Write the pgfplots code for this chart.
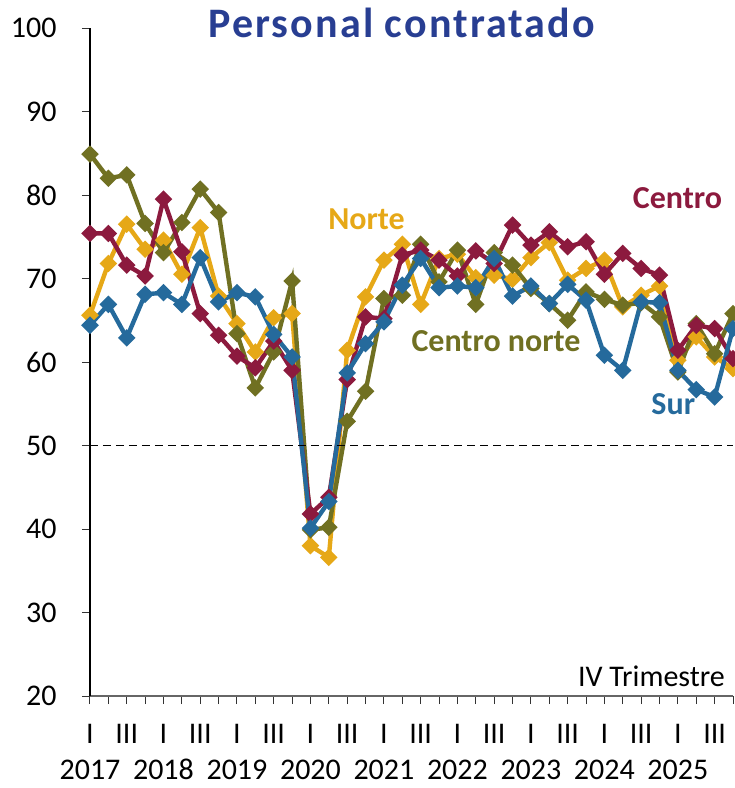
\documentclass[border=0pt]{standalone}
\usepackage{fontspec}
\setmainfont{Carlito}
\usepackage{pgfplots}
\pgfplotsset{compat=1.18}
\definecolor{cnorte}{RGB}{230,168,23}
\definecolor{ccentro}{RGB}{140,26,62}
\definecolor{ccnorte}{RGB}{112,112,34}
\definecolor{csur}{RGB}{37,106,156}
\definecolor{ctitle}{RGB}{40,62,146}
\begin{document}
\begin{tikzpicture}
\useasboundingbox (0,0) rectangle (735pt,788pt);
\begin{axis}[
  at={(90pt,92pt)}, anchor=south west,
  scale only axis, width=643pt, height=668pt,
  xmin=0, xmax=35, ymin=20, ymax=100,
  clip=false,
  axis lines=left,
  axis line style={-, line width=1.3pt},
  x axis line style={draw=black!60},
  y axis line style={draw=black},
  tick align=outside,
  major tick length=8pt,
  tick style={line width=1pt, black!80},
  xtick={0,...,35},
  xticklabels={{I\\2017},{},{III},{},{I\\2018},{},{III},{},{I\\2019},{},{III},{},{I\\2020},{},{III},{},{I\\2021},{},{III},{},{I\\2022},{},{III},{},{I\\2023},{},{III},{},{I\\2024},{},{III},{},{I\\2025},{},{III},{}},
  xticklabel style={font=\fontsize{30}{36}\selectfont, align=center, anchor=north, inner sep=0pt, yshift=-20pt},
  ytick={20,30,...,100},
  yticklabel style={font=\fontsize{30}{34}\selectfont, anchor=east, xshift=-22pt},
  /pgf/number format/assume math mode=true,
  every axis plot/.append style={line width=4.4pt, mark=square*, mark size=4pt, mark options={rotate=45, solid}},
]
\addplot[cnorte] coordinates {(0,65.6)(1,71.8)(2,76.5)(3,73.5)(4,74.6)(5,70.5)(6,76.1)(7,67.9)(8,64.6)(9,61.2)(10,65.3)(11,65.8)(12,38.0)(13,36.6)(14,61.4)(15,67.8)(16,72.2)(17,74.1)(18,66.9)(19,72.4)(20,72.9)(21,70.1)(22,70.4)(23,69.9)(24,72.5)(25,74.3)(26,69.8)(27,71.2)(28,72.2)(29,66.6)(30,68.0)(31,69.1)(32,60.2)(33,63.0)(34,60.6)(35,59.2)};
\addplot[ccnorte] coordinates {(0,84.9)(1,82.0)(2,82.4)(3,76.6)(4,73.1)(5,76.7)(6,80.7)(7,77.9)(8,63.4)(9,56.9)(10,61.2)(11,69.7)(12,39.9)(13,40.2)(14,52.9)(15,56.5)(16,67.6)(17,68.0)(18,74.1)(19,69.6)(20,73.4)(21,66.9)(22,73.1)(23,71.6)(24,68.8)(25,67.0)(26,65.0)(27,68.4)(28,67.5)(29,66.8)(30,67.1)(31,65.4)(32,58.8)(33,64.6)(34,61.0)(35,65.8)};
\addplot[ccentro] coordinates {(0,75.4)(1,75.4)(2,71.6)(3,70.3)(4,79.5)(5,73.2)(6,65.8)(7,63.2)(8,60.7)(9,59.3)(10,62.5)(11,59.0)(12,41.8)(13,43.8)(14,57.9)(15,65.4)(16,65.2)(17,72.8)(18,73.4)(19,72.2)(20,70.3)(21,73.3)(22,71.8)(23,76.4)(24,74.0)(25,75.6)(26,73.8)(27,74.4)(28,70.5)(29,73.0)(30,71.2)(31,70.4)(32,61.4)(33,64.4)(34,64.0)(35,60.4)};
\addplot[csur] coordinates {(0,64.4)(1,66.9)(2,62.9)(3,68.1)(4,68.3)(5,66.9)(6,72.5)(7,67.2)(8,68.3)(9,67.8)(10,63.3)(11,60.6)(12,40.1)(13,43.3)(14,58.7)(15,62.2)(16,64.8)(17,69.2)(18,72.4)(19,68.9)(20,69.1)(21,68.9)(22,72.4)(23,67.9)(24,69.1)(25,67.0)(26,69.3)(27,67.4)(28,60.8)(29,59.0)(30,67.2)(31,67.1)(32,59.0)(33,56.7)(34,55.8)(35,64.0)};
\addplot[black, line width=1.6pt, dash pattern=on 8pt off 5pt, mark=none] coordinates {(0,50)(35,50)};
\end{axis}
\node[anchor=base, font=\fontsize{42}{50}\selectfont\bfseries\addfontfeatures{LetterSpace=5}, text=ctitle] at (401.7pt,750.7pt) {Personal contratado};
\node[anchor=base, font=\fontsize{32}{38}\selectfont\bfseries, text=cnorte] at (366.5pt,558.7pt) {Norte};
\node[anchor=base, font=\fontsize{32}{38}\selectfont\bfseries, text=ccentro] at (677.5pt,579.7pt) {Centro};
\node[anchor=base, font=\fontsize{32}{38}\selectfont\bfseries, text=ccnorte] at (496pt,436.3pt) {Centro norte};
\node[anchor=base, font=\fontsize{32}{38}\selectfont\bfseries, text=csur] at (673.3pt,373pt) {Sur};
\node[anchor=base, font=\fontsize{30}{36}\selectfont] at (651.5pt,101.3pt) {IV Trimestre};
\end{tikzpicture}
\end{document}
